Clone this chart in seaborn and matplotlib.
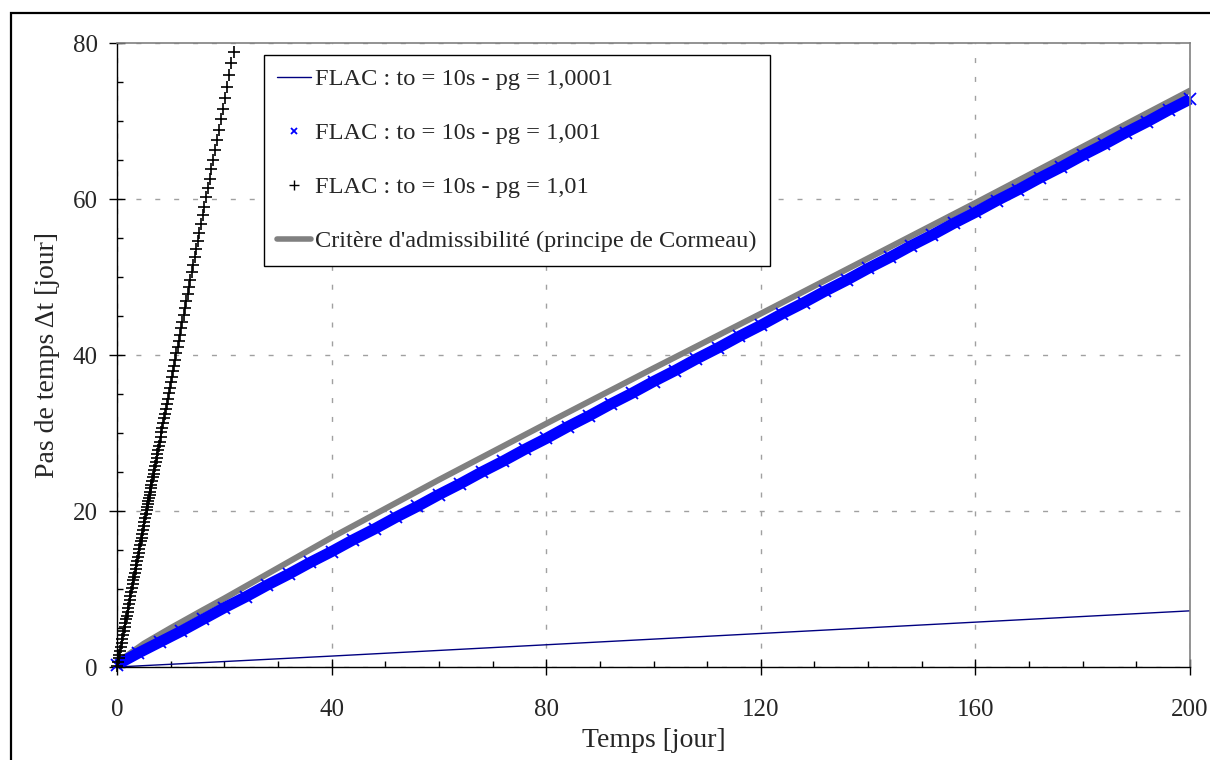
import matplotlib
matplotlib.use("Agg")
import matplotlib.pyplot as plt
import seaborn as sns
from matplotlib.lines import Line2D
from matplotlib.patches import Rectangle
from matplotlib.ticker import MultipleLocator

# FLAC : pg = 1,0001 (trait bleu marine)
t_pg1 = [0, 40, 80, 120, 160, 200]
dt_pg1 = [0, 1.4, 2.85, 4.3, 5.75, 7.2]

# FLAC : pg = 1,001 (croix bleues)
t_pg2 = [0, 4, 8, 12, 16, 20, 24, 28, 32, 36, 40, 44, 48, 52, 56, 60, 64, 68, 72, 76,
         80, 84, 88, 92, 96, 100, 104, 108, 112, 116, 120, 124, 128, 132, 136, 140,
         144, 148, 152, 156, 160, 164, 168, 172, 176, 180, 184, 188, 192, 196, 200]
dt_pg2 = [0.3, 1.8, 3.2, 4.6, 6.1, 7.6, 9.0, 10.5, 11.9, 13.4, 14.8, 16.3, 17.7, 19.2,
          20.6, 22.1, 23.5, 25.0, 26.4, 27.9, 29.3, 30.8, 32.2, 33.7, 35.1, 36.6, 38.0,
          39.5, 40.9, 42.4, 43.8, 45.3, 46.7, 48.2, 49.6, 51.1, 52.5, 54.0, 55.4, 56.9,
          58.3, 59.8, 61.2, 62.7, 64.1, 65.6, 67.0, 68.5, 69.9, 71.4, 72.8]

# FLAC : pg = 1,01 (plus noirs)
t_pg3 = [0.03, 0.17, 0.30, 0.44, 0.58, 0.72, 0.85, 0.99, 1.13, 1.27, 1.41, 1.54, 1.68,
         1.82, 1.96, 2.09, 2.23, 2.37, 2.51, 2.64, 2.78, 2.92, 3.06, 3.20, 3.33, 3.47,
         3.61, 3.75, 3.88, 4.02, 4.16, 4.30, 4.44, 4.57, 4.71, 4.85, 4.99, 5.12, 5.26,
         5.40, 5.54, 5.65, 5.76, 5.87, 5.98, 6.09, 6.20, 6.31, 6.42, 6.56, 6.69, 6.83,
         6.97, 7.11, 7.25, 7.38, 7.52, 7.66, 7.80, 7.96, 8.13, 8.29, 8.46, 8.62, 8.79,
         8.95, 9.12, 9.28, 9.48, 9.67, 9.86, 10.06, 10.25, 10.44, 10.63, 10.85, 11.08,
         11.30, 11.52, 11.74, 11.96, 12.18, 12.43, 12.67, 12.92, 13.17, 13.42, 13.66,
         13.94, 14.22, 14.49, 14.77, 15.04, 15.35, 15.65, 15.95, 16.25, 16.59, 16.92,
         17.25, 17.58, 17.91, 18.27, 18.62, 18.98, 19.34, 19.73, 20.11, 20.50, 20.91,
         21.32, 21.74]
dt_pg3 = [0.1, 0.6, 1.1, 1.6, 2.1, 2.6, 3.1, 3.6, 4.1, 4.6, 5.1, 5.6, 6.1, 6.6, 7.1,
          7.6, 8.1, 8.6, 9.1, 9.6, 10.1, 10.6, 11.1, 11.6, 12.1, 12.6, 13.1, 13.6, 14.1,
          14.6, 15.1, 15.6, 16.1, 16.6, 17.1, 17.6, 18.1, 18.6, 19.1, 19.6, 20.1, 20.5,
          20.9, 21.3, 21.7, 22.1, 22.5, 22.9, 23.3, 23.8, 24.3, 24.8, 25.3, 25.8, 26.3,
          26.8, 27.3, 27.8, 28.3, 28.9, 29.5, 30.1, 30.7, 31.3, 31.9, 32.5, 33.1, 33.7,
          34.4, 35.1, 35.8, 36.5, 37.2, 37.9, 38.6, 39.4, 40.2, 41.0, 41.8, 42.6, 43.4,
          44.2, 45.1, 46.0, 46.9, 47.8, 48.7, 49.6, 50.6, 51.6, 52.6, 53.6, 54.6, 55.7,
          56.8, 57.9, 59.0, 60.2, 61.4, 62.6, 63.8, 65.0, 66.3, 67.6, 68.9, 70.2, 71.6,
          73.0, 74.4, 75.9, 77.4, 78.9]

# Critere d'admissibilite (Cormeau)
t_crit = [0, 1.5, 5, 10, 16, 20, 30, 40, 60, 80, 100, 120, 140, 160, 180, 200]
dt_crit = [0, 1.3, 3.0, 5.0, 7.3, 8.8, 12.7, 16.6, 24.0, 31.2, 38.3, 45.3, 52.4, 59.5,
           66.7, 73.9]

labels = ["FLAC : to = 10s - pg = 1,0001",
          "FLAC : to = 10s - pg = 1,001",
          "FLAC : to = 10s - pg = 1,01",
          "Critère d'admissibilité (principe de Cormeau)"]

sns.set_style("ticks")
plt.rcParams['font.family'] = ['Liberation Serif', 'DejaVu Serif']

fig = plt.figure(figsize=(12.1, 7.6), dpi=100)
ax = fig.add_axes([117 / 1210, 1 - 667 / 760, (1190 - 117) / 1210, (667 - 43) / 760])

sns.lineplot(x=t_crit, y=dt_crit, ax=ax, color='#808080', linewidth=4.3,
             estimator=None, zorder=2)
sns.lineplot(x=t_pg1, y=dt_pg1, ax=ax, color='#000080', linewidth=1.0,
             estimator=None, zorder=2.1)
sns.lineplot(x=t_pg2, y=dt_pg2, ax=ax, color='blue', linewidth=8, marker='x',
             markersize=8.5, markeredgewidth=1.3, markeredgecolor='blue',
             solid_capstyle='butt', estimator=None, zorder=2.2, clip_on=False)
sns.lineplot(x=t_pg3, y=dt_pg3, ax=ax, color='black', linestyle='none', marker='+',
             markersize=8, markeredgewidth=1.2, markeredgecolor='black',
             estimator=None, zorder=2.3, clip_on=False)

ax.set_xlim(0, 200)
ax.set_ylim(0, 80)
ax.xaxis.set_major_locator(MultipleLocator(40))
ax.xaxis.set_minor_locator(MultipleLocator(10))
ax.yaxis.set_major_locator(MultipleLocator(20))
ax.yaxis.set_minor_locator(MultipleLocator(5))
ax.tick_params(which='major', direction='inout', length=12, width=1, color='black',
               labelsize=18)
ax.tick_params(which='minor', direction='in', length=4.3, width=1, color='black')
ax.tick_params(axis='x', which='major', pad=17)
ax.tick_params(axis='y', which='major', pad=8)

ax.set_axisbelow(True)
ax.grid(which='major', color='#a0a0a0', linestyle=(0, (3.6, 10)), linewidth=1)

for side in ['left', 'bottom']:
    ax.spines[side].set_color('black')
    ax.spines[side].set_linewidth(1)
for side in ['top', 'right']:
    ax.spines[side].set_visible(True)
    ax.spines[side].set_color('#808080')
    ax.spines[side].set_linewidth(1.2)

ax.set_xlabel("Temps [jour]", fontsize=20, labelpad=5)
ax.set_ylabel("Pas de temps Δt [jour]", fontsize=20, labelpad=9)

handles = [
    Line2D([], [], color='#000080', linewidth=1.0),
    Line2D([], [], color='blue', marker='x', linestyle='none', markersize=5,
           markeredgewidth=1.3),
    Line2D([], [], color='black', marker='+', linestyle='none', markersize=7,
           markeredgewidth=1.0),
    Line2D([], [], color='#808080', linewidth=4),
]
leg = ax.legend(handles, labels, loc='upper left', bbox_to_anchor=(0.137, 0.981),
                borderaxespad=0, fontsize=17.6, frameon=True, fancybox=False,
                edgecolor='black', framealpha=1, handlelength=1.36,
                handletextpad=0.16, labelspacing=1.3, borderpad=0.55)
leg.get_frame().set_linewidth(1)

fig.patches.append(Rectangle((11 / 1210, -0.05), 1.1, 1 - 13 / 760 + 0.05,
                             transform=fig.transFigure, fill=False,
                             edgecolor='black', linewidth=1.6, clip_on=False))

fig.savefig("out.png", dpi=100)
